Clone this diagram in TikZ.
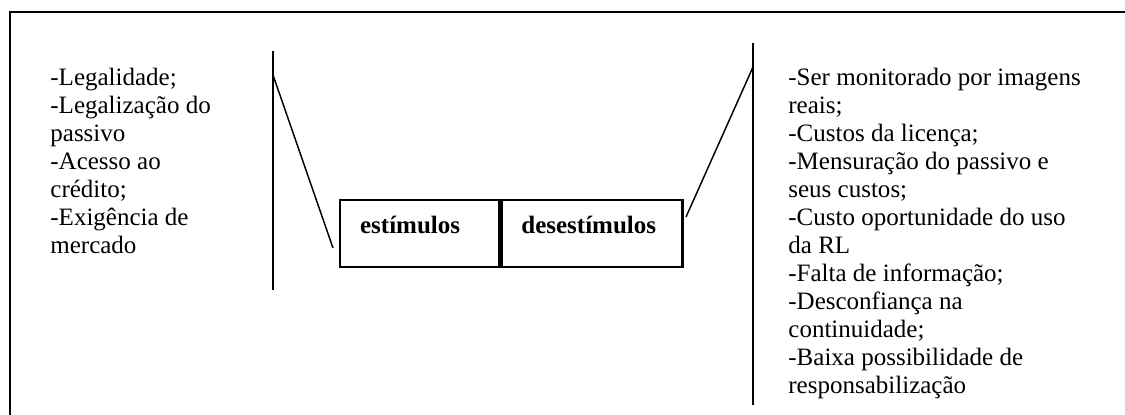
\documentclass[tikz,border=0pt]{standalone}
\usepackage{fontspec}
\setmainfont{Liberation Serif}
\usetikzlibrary{positioning}

\begin{document}
\begin{tikzpicture}[x=0.48pt,y=-0.48pt,
	lista/.style={anchor=north west,inner sep=0pt,align=left,font=\fontsize{12}{13.44}\selectfont},
	celula/.style={draw,line width=1.1pt,inner xsep=9.6pt,inner ysep=0pt,text height=16.1pt,text depth=16.1pt,align=left,font=\fontsize{12}{14}\selectfont\bfseries},
	traco/.style={line width=0.7pt}]
	\path[use as bounding box,clip] (0,0) rectangle (1125,414);
	\draw[line width=1.1pt] (10,12) rectangle (1200,480);
	% caixa central
	\node[celula,text width=57.1pt,anchor=north west] (est) at (339,199) {estímulos};
	\node[celula,text width=67.7pt,right=0pt of est] (desest) {desestímulos};
	% listas
	\node[lista] (pro) at (50,68) {-Legalidade;\\-Legalização do\\passivo\\-Acesso ao\\crédito;\\-Exigência de\\mercado};
	\begin{scope}
		\clip (780,0) rectangle (1125,402);
		\node[lista] (contra) at (788,68) {-Ser monitorado por imagens\\reais;\\-Custos da licença;\\-Mensuração do passivo e\\seus custos;\\-Custo oportunidade do uso\\da RL\\-Falta de informação;\\-Desconfiança na\\continuidade;\\-Baixa possibilidade de\\responsabilização};
	\end{scope}
	% tracos
	\coordinate (e1) at (273,51); \coordinate (e2) at (273,290);
	\coordinate (e3) at (273,75); \coordinate (e4) at (333,248);
	\coordinate (d1) at (753,43); \coordinate (d2) at (753,405);
	\coordinate (d3) at (753,67); \coordinate (d4) at (686,217);
	\draw[traco] (e1) -- (e2);
	\draw[traco] (e3) -- (e4);
	\draw[traco] (d1) -- (d2);
	\draw[traco] (d3) -- (d4);
\end{tikzpicture}
\end{document}
